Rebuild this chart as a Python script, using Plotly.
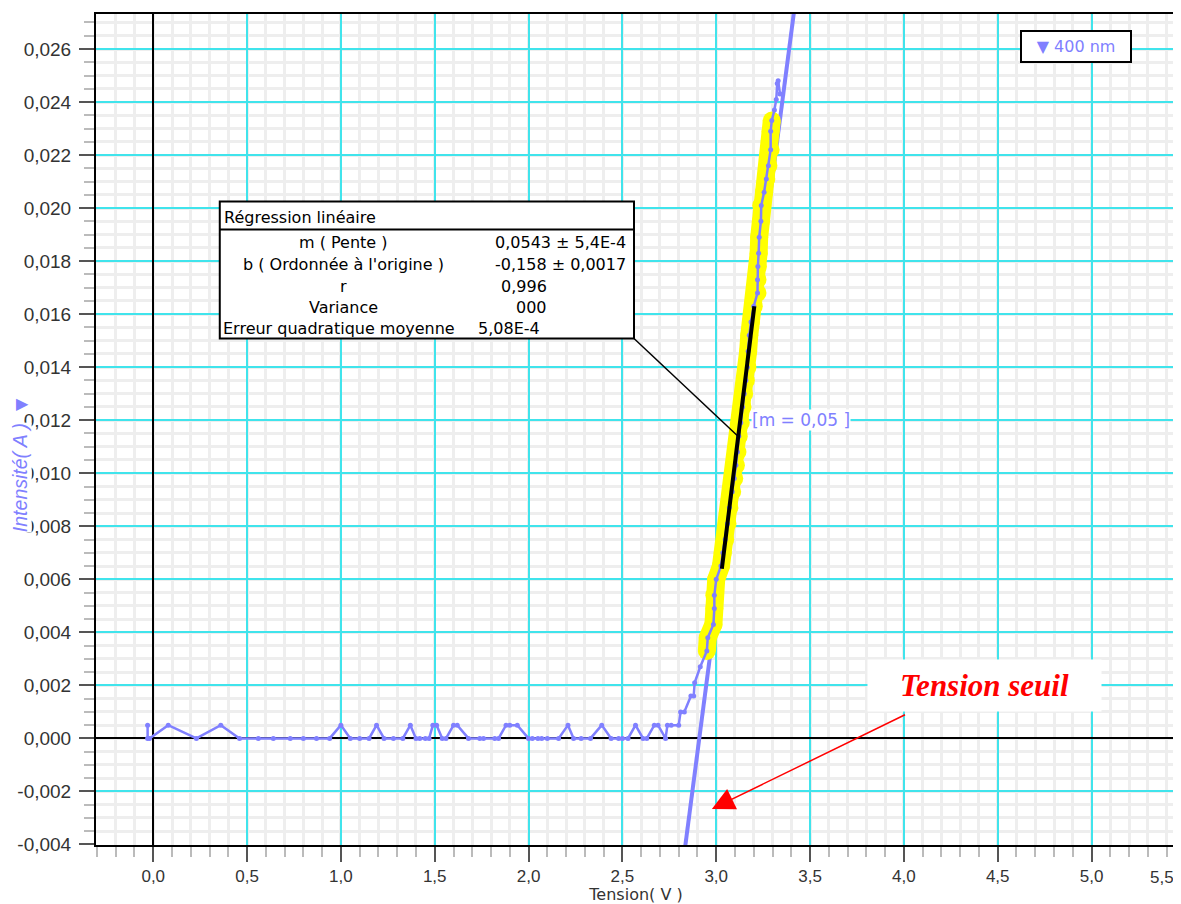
import plotly.graph_objects as go

# ---------------- data ----------------
volt = [-0.03, -0.03, -0.02, 0.08, 0.23, 0.36, 0.46, 0.56, 0.64, 0.73, 0.80, 0.87, 0.94,
        1.00, 1.05, 1.10, 1.15, 1.19, 1.23, 1.28, 1.33, 1.37, 1.40, 1.42, 1.45, 1.47,
        1.49, 1.51, 1.54, 1.56, 1.60, 1.62, 1.68, 1.74, 1.76, 1.82, 1.84, 1.88, 1.90, 1.94,
        2.00, 2.02, 2.05, 2.07, 2.10, 2.16, 2.21, 2.24, 2.28, 2.33, 2.39, 2.44, 2.48, 2.50,
        2.53, 2.57, 2.61, 2.63, 2.67, 2.69, 2.73, 2.74, 2.76, 2.80, 2.81, 2.83, 2.865, 2.88,
        2.885, 2.915,
        2.95, 2.955, 2.985, 2.99, 2.99, 3.00, 3.025, 3.035, 3.048, 3.06, 3.07, 3.085, 3.096,
        3.105, 3.113, 3.12, 3.131, 3.14, 3.149, 3.158, 3.166, 3.17, 3.176, 3.185, 3.20, 3.22,
        3.22, 3.222, 3.226, 3.229, 3.238, 3.24, 3.255, 3.267, 3.278, 3.29, 3.29, 3.296,
        3.31, 3.32, 3.325, 3.33, 3.34]
intensite = [0.0005, 0.0, 0.0, 0.0005, 0.0, 0.0005, 0.0, 0.0, 0.0, 0.0, 0.0, 0.0, 0.0,
             0.0005, 0.0, 0.0, 0.0, 0.0005, 0.0, 0.0, 0.0, 0.0005, 0.0, 0.0, 0.0, 0.0,
             0.0005, 0.0005, 0.0, 0.0, 0.0005, 0.0005, 0.0, 0.0, 0.0, 0.0, 0.0, 0.0005, 0.0005, 0.0005,
             0.0, 0.0, 0.0, 0.0, 0.0, 0.0, 0.0005, 0.0, 0.0, 0.0, 0.0005, 0.0, 0.0, 0.0,
             0.0, 0.0005, 0.0, 0.0, 0.0005, 0.0005, 0.0, 0.0005, 0.0005, 0.0005, 0.001, 0.001, 0.0016, 0.0016,
             0.0021, 0.0027,
             0.0033, 0.0038, 0.0043, 0.0049, 0.0054, 0.0060, 0.0065, 0.0070, 0.0075, 0.0081, 0.0087, 0.0093, 0.0098,
             0.0103, 0.0108, 0.0114, 0.0119, 0.0125, 0.0130, 0.0135, 0.0140, 0.0146, 0.0152, 0.0157, 0.0163, 0.0168,
             0.0173, 0.0178, 0.0183, 0.0189, 0.0195, 0.0201, 0.0206, 0.0211, 0.0216, 0.0222, 0.0229, 0.0233,
             0.0237, 0.0241, 0.0247, 0.0248, 0.0243]
sel_start, sel_end = 70, 107          # indices of the highlighted (selected) points

pente = 0.0543
ordonnee = -0.158
reg_line_x = [2.80, 3.45]
fit_x = [3.03, 3.203]
fit_y = [0.0064, 0.0163]

x_tick_vals = [0.0, 0.5, 1.0, 1.5, 2.0, 2.5, 3.0, 3.5, 4.0, 4.5, 5.0]
x_tick_text = ["0,0", "0,5", "1,0", "1,5", "2,0", "2,5", "3,0", "3,5", "4,0", "4,5", "5,0"]
x_last_label = "5,5"
y_tick_vals = [-0.004, -0.002, 0.0, 0.002, 0.004, 0.006, 0.008, 0.010, 0.012,
               0.014, 0.016, 0.018, 0.020, 0.022, 0.024, 0.026]
y_tick_text = ["-0,004", "-0,002", "0,000", "0,002", "0,004", "0,006", "0,008", "0,010", "0,012",
               "0,014", "0,016", "0,018", "0,020", "0,022", "0,024", "0,026"]

table_labels = ["m ( Pente )", "b ( Ordonnée à l'origine )", "r", "Variance", "Erreur quadratique moyenne"]
table_values = ["0,0543 ± 5,4E-4", "-0,158 ± 0,0017", "0,996", "000", "5,08E-4"]

series_name = "400 nm"
x_title = "Tension( V )"
y_title = "Intensité( A )"

# ---------------- layout constants ----------------
OFF = 8                      # page body margin
W, H = 1181 - OFF, 904 - OFF
ML, MR, MT, MB = 96 - OFF, 3, 14 - OFF, 59
XR = [-0.305, 5.45]
YR = [-0.00402, 0.02732]
PURPLE = "#8080ff"
CYAN = "#40e4ec"
MINOR = "#eeeeee"
FONT = "Liberation Sans, Arial, sans-serif"
WFONT = "DejaVu Sans, Verdana, sans-serif"


def px2x(px):
    return XR[0] + (px - OFF - ML) / (W - ML - MR) * (XR[1] - XR[0])


def py2y(py):
    return YR[1] - (py - OFF - MT) / (H - MT - MB) * (YR[1] - YR[0])


def px2paper(px):
    return (px - OFF - ML) / (W - ML - MR)


def py2paper(py):
    return 1 - (py - OFF - MT) / (H - MT - MB)


fig = go.Figure()

fig.add_trace(go.Scatter(x=reg_line_x, y=[pente * v + ordonnee for v in reg_line_x],
                         mode="lines", line=dict(color=PURPLE, width=4),
                         showlegend=False, hoverinfo="skip"))
fig.add_trace(go.Scatter(x=volt[sel_start:sel_end + 1], y=intensite[sel_start:sel_end + 1],
                         mode="lines+markers", line=dict(color="#ffff00", width=18),
                         marker=dict(color="#ffff00", size=18),
                         showlegend=False, hoverinfo="skip"))
fig.add_trace(go.Scatter(x=volt, y=intensite, mode="lines+markers", name=series_name,
                         line=dict(color=PURPLE, width=2.5),
                         marker=dict(color=PURPLE, size=5), showlegend=False))
fig.add_trace(go.Scatter(x=fit_x, y=fit_y, mode="lines", line=dict(color="black", width=4),
                         showlegend=False, hoverinfo="skip"))

axis_common = dict(
    showline=True, linecolor="black", linewidth=2, mirror=True,
    showgrid=True, gridcolor=CYAN, gridwidth=2,
    zeroline=True, zerolinecolor="black", zerolinewidth=2,
    ticks="outside", tickcolor="#555555", tickwidth=2, ticklen=15,
)

fig.update_xaxes(range=XR, tickmode="array", tickvals=x_tick_vals, ticktext=x_tick_text,
                 tickfont=dict(family=FONT, size=17, color="#333333"),
                 minor=dict(dtick=0.1, tick0=0, showgrid=True, gridcolor=MINOR, gridwidth=3,
                            ticks="outside", ticklen=10, tickcolor="#bbbbbb", tickwidth=2),
                 title=dict(text=x_title, font=dict(family=WFONT, size=16, color="#333333"), standoff=0),
                 **axis_common)
fig.update_yaxes(range=YR, tickmode="array", tickvals=y_tick_vals, ticktext=y_tick_text,
                 tickfont=dict(family=FONT, size=19, color="#333333"), ticklabelstandoff=4,
                 minor=dict(dtick=0.0005, tick0=0, showgrid=True, gridcolor=MINOR, gridwidth=3,
                            ticks="outside", ticklen=10, tickcolor="#bbbbbb", tickwidth=2),
                 **axis_common)

shapes = []
annotations = []

# regression table box
bx0, bx1 = px2x(220), px2x(635)
by0, by1, bsep = py2y(201.5), py2y(338.5), py2y(229.5)
shapes.append(dict(type="rect", xref="x", yref="y", x0=bx0, x1=bx1, y0=by1, y1=by0,
                   line=dict(color="black", width=2), fillcolor="white", layer="above"))
shapes.append(dict(type="line", xref="x", yref="y", x0=bx0, x1=bx1, y0=bsep, y1=bsep,
                   line=dict(color="black", width=2), layer="above"))
shapes.append(dict(type="line", xref="x", yref="y", x0=bx1, y0=by1, x1=px2x(740), y1=py2y(437),
                   line=dict(color="black", width=1.5), layer="above"))

TF = dict(family=WFONT, size=16, color="black")
annotations.append(dict(x=px2x(222), y=py2y(217), xref="x", yref="y", text="Régression linéaire",
                        showarrow=False, xanchor="left", yanchor="middle", font=TF))
row_y = [242, 264.5, 286.5, 307.5, 328]
for i, (lab, val) in enumerate(zip(table_labels, table_values)):
    if i == 4:
        annotations.append(dict(x=px2x(221), y=py2y(row_y[i]), xref="x", yref="y", text=lab,
                                showarrow=False, xanchor="left", yanchor="middle", font=TF))
        annotations.append(dict(x=px2x(477), y=py2y(row_y[i]), xref="x", yref="y", text=val,
                                showarrow=False, xanchor="left", yanchor="middle", font=TF))
    else:
        annotations.append(dict(x=px2x(344), y=py2y(row_y[i]), xref="x", yref="y", text=lab,
                                showarrow=False, xanchor="center", yanchor="middle", font=TF))
        annotations.append(dict(x=px2x(629 if i < 2 else 550), y=py2y(row_y[i]), xref="x", yref="y",
                                text=val, showarrow=False, xanchor="right", yanchor="middle", font=TF))

# slope label
annotations.append(dict(x=px2x(752), y=py2y(420), xref="x", yref="y", text="[m = 0,05 ]",
                        showarrow=False, xanchor="left", yanchor="middle", bgcolor="white",
                        font=dict(family=WFONT, size=17, color=PURPLE), borderpad=0))

# legend box
annotations.append(dict(x=px2x(1078), y=py2y(46.5), xref="x", yref="y", text="▼ 400 nm",
                        showarrow=False, xanchor="center", yanchor="middle", bgcolor="white",
                        bordercolor="black", borderwidth=2, width=108, height=29, borderpad=0,
                        font=dict(family=WFONT, size=16, color=PURPLE)))

# Tension seuil
annotations.append(dict(x=px2x(986.5), y=py2y(685.5), xref="x", yref="y",
                        text="<b><i>Tension seuil</i></b>", showarrow=False,
                        xanchor="center", yanchor="middle", bgcolor="white",
                        width=233, height=51, borderpad=0,
                        font=dict(family="Liberation Serif, Times New Roman, serif", size=31, color="red")))
annotations.append(dict(x=px2x(713), y=py2y(809), xref="x", yref="y",
                        ax=px2x(908), ay=py2y(714), axref="x", ayref="y",
                        text="", showarrow=True, arrowhead=2, arrowsize=3, arrowwidth=1.5,
                        arrowcolor="red", standoff=0))

# last x tick label (partially outside the plot in the original)
annotations.append(dict(x=px2paper(1164), y=py2paper(877), xref="paper", yref="paper",
                        text=x_last_label, showarrow=False, xanchor="center", yanchor="middle",
                        font=dict(family=FONT, size=17, color="#333333")))

# y axis title (rotated)
annotations.append(dict(x=px2paper(20), y=py2paper(478), xref="paper", yref="paper",
                        text="<i>" + y_title + "</i>",
                        textangle=-90, showarrow=False, xanchor="center", yanchor="middle",
                        bgcolor="white", borderpad=0,
                        font=dict(family=FONT, size=19.5, color=PURPLE)))
annotations.append(dict(x=px2paper(20), y=py2paper(405), xref="paper", yref="paper", text="▼",
                        textangle=-90, showarrow=False, xanchor="center", yanchor="middle",
                        font=dict(family=FONT, size=21, color=PURPLE)))

fig.update_layout(
    width=W, height=H,
    margin=dict(l=ML, r=MR, t=MT, b=MB, pad=0),
    plot_bgcolor="white", paper_bgcolor="white",
    separators=",.",
    showlegend=False,
    shapes=shapes, annotations=annotations,
    font=dict(family=FONT),
)

fig.write_html("out.html")
